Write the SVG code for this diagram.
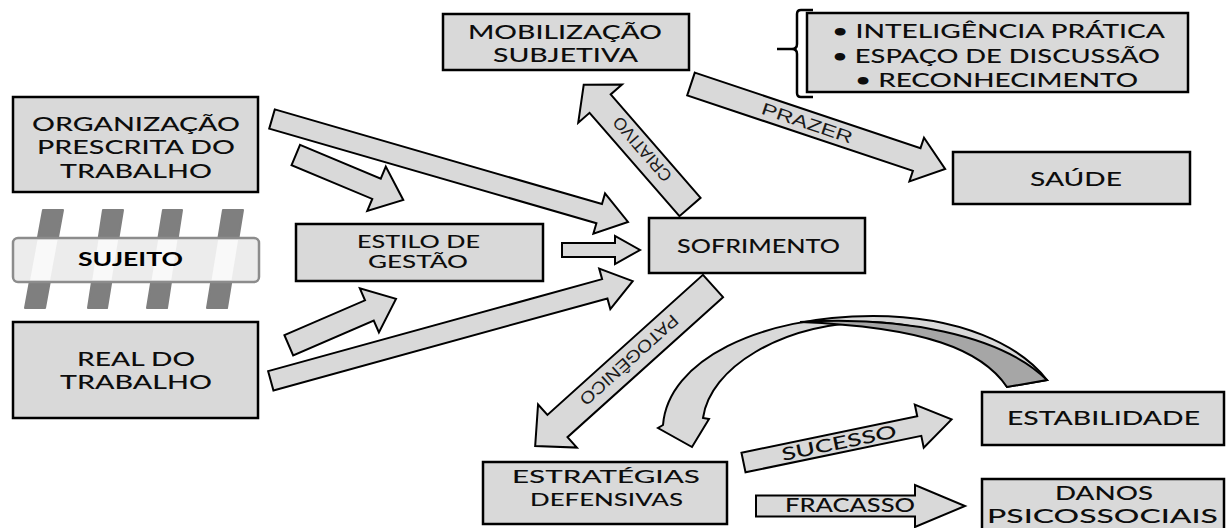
<svg xmlns="http://www.w3.org/2000/svg" width="1229" height="528" viewBox="0 0 1229 528">
<defs>
<style>
.box{fill:#d9d9d9;stroke:#000;stroke-width:2.5}
.t{font-family:"Lato","Open Sans",sans-serif;font-size:19px;font-weight:500;fill:#0d0d0d}
.b{font-weight:bold;fill:#000}
.s20{font-size:20px}
.s18{font-size:18px}
.s16{font-size:16.5px}
.arr{fill:#d9d9d9;stroke:#000;stroke-width:2;stroke-linejoin:miter}
.lbl{font-family:"Liberation Sans","DejaVu Sans",sans-serif;font-size:17px;fill:#1a1a1a}
.post{fill:#7f7f7f;stroke:#7f7f7f;stroke-width:2;stroke-linejoin:round}
</style>
<clipPath id="barclip"><rect x="14" y="240" width="244" height="40" rx="4"/></clipPath>
</defs>
<rect width="1229" height="528" fill="#fff"/>

<g id="connectors">
  <path class="arr" transform="translate(272,119) rotate(16.13)" d="M0,-10 L340.6,-10 L340.6,-21 L370.6,0 L340.6,21 L340.6,10 L0,10 Z"/>
  <path class="arr" transform="translate(295.8,155) rotate(22.7)" d="M0,-11 L87.5,-11 L87.5,-24 L116.5,0 L87.5,24 L87.5,11 L0,11 Z"/>
  <path class="arr" transform="translate(562,250)" d="M0,-7 L53,-7 L53,-14 L78,0 L53,14 L53,7 L0,7 Z"/>
  <path class="arr" transform="translate(288.8,345.3) rotate(-23.4)" d="M0,-11 L87.8,-11 L87.8,-24 L116.8,0 L87.8,24 L87.8,11 L0,11 Z"/>
  <path class="arr" transform="translate(270.8,380.8) rotate(-15.4)" d="M0,-10 L346.4,-10 L346.4,-21 L375.4,0 L346.4,21 L346.4,10 L0,10 Z"/>
  <g transform="translate(690,207) rotate(-131)">
    <path class="arr" d="M0,-14 L137,-14 L137,-29 L162,0 L137,29 L137,14 L0,14 Z"/>
    <text class="lbl" x="35" y="7.8" font-size="22" textLength="80" lengthAdjust="spacingAndGlyphs">CRIATIVO</text>
  </g>
  <g transform="translate(691,84) rotate(18.5)">
    <path class="arr" d="M0,-12 L238,-12 L238,-23 L268,0 L238,23 L238,12 L0,12 Z"/>
    <text class="lbl" x="75" y="6" font-size="18" textLength="95" lengthAdjust="spacingAndGlyphs">PRAZER</text>
  </g>
  <g transform="translate(713,286) rotate(138)">
    <path class="arr" d="M0,-15 L209.3,-15 L209.3,-29 L239.3,0 L209.3,29 L209.3,15 L0,15 Z"/>
    <text class="lbl" x="49" y="7" font-size="20" textLength="126" lengthAdjust="spacingAndGlyphs">PATOGÊNICO</text>
  </g>
  <g transform="translate(743.5,462.5) rotate(-11.7)">
    <path class="arr" d="M0,-10 L179.5,-10 L179.5,-22 L212.5,0 L179.5,22 L179.5,10 L0,10 Z"/>
    <text class="t s18" x="39" y="6.5" textLength="117" lengthAdjust="spacingAndGlyphs">SUCESSO</text>
  </g>
  <g transform="translate(756,506)">
    <path class="arr" d="M0,-10.5 L159,-10.5 L159,-21 L209,0 L159,21 L159,10.5 L0,10.5 Z"/>
    <text class="t" x="29" y="6" font-size="17" textLength="130" lengthAdjust="spacingAndGlyphs">FRACASSO</text>
  </g>
  <g id="curved">
    <path class="arr" d="M663,425 C668,360 760,316 873,316 C960,316 1020,345 1047,380 L1007,387 C985,346 930,323 870,322 C780,324 710,368 703,418 L709,419 L692,447 L658,428 Z"/>
    <path d="M800,322 C900,316 1000,334 1047,380 L1007,387 C982,350 925,327 800,322 Z" fill="#a6a6a6" stroke="#000" stroke-width="2"/>
  </g>
</g>

<g id="org">
  <rect class="box" x="13" y="97" width="245" height="95"/>
  <text class="t" x="32" y="130.5" textLength="208" lengthAdjust="spacingAndGlyphs">ORGANIZAÇÃO</text>
  <text class="t" x="37" y="154" textLength="198" lengthAdjust="spacingAndGlyphs">PRESCRITA DO</text>
  <text class="t" x="60" y="177.5" textLength="152" lengthAdjust="spacingAndGlyphs">TRABALHO</text>
</g>

<g id="sujeito">
  <polygon class="post" points="43,210 63,210 45,308 25,308"/>
  <polygon class="post" points="103,210 123,210 107,308 88,308"/>
  <polygon class="post" points="163,210 182,210 167,308 147,308"/>
  <polygon class="post" points="223,210 243,210 227,308 207,308"/>
  <rect x="13" y="238" width="246" height="44" rx="5" fill="#ececec" stroke="#8c8c8c" stroke-width="2.5"/>
  <g clip-path="url(#barclip)" fill="#f9f9f9">
    <polygon points="43,210 63,210 45,308 25,308"/>
    <polygon points="103,210 123,210 107,308 88,308"/>
    <polygon points="163,210 182,210 167,308 147,308"/>
    <polygon points="223,210 243,210 227,308 207,308"/>
  </g>
  <text class="t b" x="78" y="266" font-size="16" textLength="105" lengthAdjust="spacingAndGlyphs">SUJEITO</text>
</g>

<g id="real">
  <rect class="box" x="13" y="322" width="245" height="96"/>
  <text class="t" x="77" y="366" textLength="118" lengthAdjust="spacingAndGlyphs">REAL DO</text>
  <text class="t" x="60" y="389" textLength="152" lengthAdjust="spacingAndGlyphs">TRABALHO</text>
</g>

<g id="estilo">
  <rect class="box" x="296" y="224" width="247" height="57"/>
  <text class="t s16" x="357" y="248" textLength="123" lengthAdjust="spacingAndGlyphs">ESTILO DE</text>
  <text class="t s16" x="368" y="268" textLength="100" lengthAdjust="spacingAndGlyphs">GESTÃO</text>
</g>

<g id="sofrimento">
  <rect class="box" x="649" y="218" width="216" height="55"/>
  <text class="t" x="677" y="253" textLength="163" lengthAdjust="spacingAndGlyphs">SOFRIMENTO</text>
</g>

<g id="mobilizacao">
  <rect class="box" x="443" y="14" width="246" height="56"/>
  <text class="t" x="468" y="39" textLength="194" lengthAdjust="spacingAndGlyphs">MOBILIZAÇÃO</text>
  <text class="t" x="493" y="61.5" textLength="145" lengthAdjust="spacingAndGlyphs">SUBJETIVA</text>
</g>

<g id="lista">
  <path d="M813,10 L801,10 Q797,10 797,14 L797,44 Q797,49 792,49 L777,49 M792,49 Q797,49 797,54 L797,93 Q797,97 801,97 L813,97" fill="none" stroke="#000" stroke-width="2.5"/>
  <rect class="box" x="807" y="13" width="381" height="79"/>
  <text class="t s20" x="832" y="38" textLength="333" lengthAdjust="spacingAndGlyphs">• INTELIGÊNCIA PRÁTICA</text>
  <text class="t s20" x="832" y="62.5" textLength="328" lengthAdjust="spacingAndGlyphs">• ESPAÇO DE DISCUSSÃO</text>
  <text class="t s20" x="855" y="87" textLength="283" lengthAdjust="spacingAndGlyphs">• RECONHECIMENTO</text>
</g>

<g id="saude">
  <rect class="box" x="953" y="152" width="237" height="52"/>
  <text class="t" x="1030" y="186" textLength="92" lengthAdjust="spacingAndGlyphs">SAÚDE</text>
</g>

<g id="estrategias">
  <rect class="box" x="483" y="462" width="244" height="62"/>
  <text class="t s18" x="512" y="483" textLength="188" lengthAdjust="spacingAndGlyphs">ESTRATÉGIAS</text>
  <text class="t s18" x="530" y="506" textLength="153" lengthAdjust="spacingAndGlyphs">DEFENSIVAS</text>
</g>

<g id="estabilidade">
  <rect class="box" x="982" y="392" width="242" height="53"/>
  <text class="t" x="1007" y="425" textLength="193" lengthAdjust="spacingAndGlyphs">ESTABILIDADE</text>
</g>

<g id="danos">
  <rect class="box" x="982" y="479" width="242" height="60"/>
  <text class="t" x="1055" y="500" textLength="98" lengthAdjust="spacingAndGlyphs">DANOS</text>
  <text class="t" x="987" y="523" textLength="231" lengthAdjust="spacingAndGlyphs">PSICOSSOCIAIS</text>
</g>
</svg>
